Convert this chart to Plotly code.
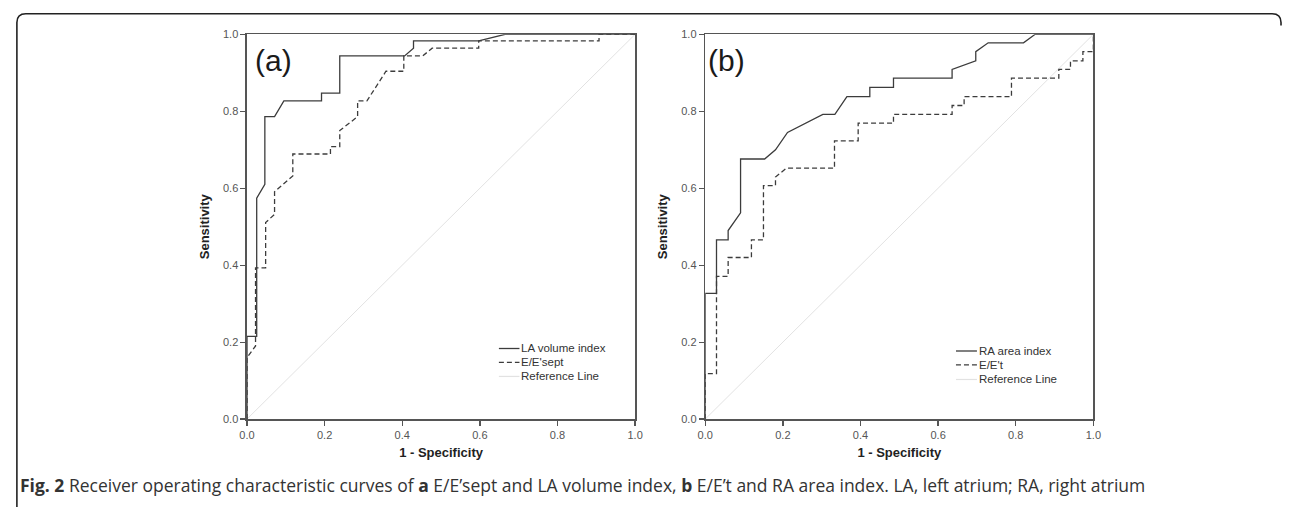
import plotly.graph_objects as go

# ---------------- data ----------------
# Panel (a)
la_x = [0, 0, 0.025, 0.025, 0.046, 0.046, 0.071, 0.095, 0.192, 0.192, 0.239, 0.239,
        0.406, 0.429, 0.429, 0.597, 0.665, 1.0]
la_y = [0, 0.215, 0.215, 0.574, 0.61, 0.786, 0.786, 0.827, 0.827, 0.847, 0.847, 0.944,
        0.944, 0.964, 0.983, 0.983, 1.0, 1.0]

sept_x = [0, 0, 0.022, 0.022, 0.048, 0.048, 0.071, 0.071, 0.118, 0.118, 0.215, 0.215,
          0.239, 0.239, 0.285, 0.285, 0.309, 0.358, 0.404, 0.404, 0.453, 0.477, 0.597,
          0.597, 0.907, 0.907, 1.0]
sept_y = [0, 0.16, 0.19, 0.393, 0.393, 0.511, 0.532, 0.591, 0.632, 0.689, 0.689, 0.708,
          0.708, 0.75, 0.786, 0.827, 0.827, 0.904, 0.904, 0.944, 0.944, 0.964, 0.964,
          0.983, 0.983, 1.0, 1.0]

# Panel (b)
ra_x = [0, 0, 0.029, 0.029, 0.059, 0.059, 0.091, 0.091, 0.153, 0.181, 0.212, 0.303,
        0.334, 0.365, 0.424, 0.424, 0.485, 0.485, 0.636, 0.636, 0.697, 0.697, 0.729,
        0.82, 0.85, 1.0]
ra_y = [0, 0.327, 0.327, 0.466, 0.466, 0.49, 0.536, 0.676, 0.676, 0.70, 0.745, 0.792,
        0.792, 0.838, 0.838, 0.862, 0.862, 0.886, 0.886, 0.909, 0.931, 0.955, 0.978,
        0.978, 1.0, 1.0]

et_x = [0, 0, 0.029, 0.029, 0.059, 0.059, 0.119, 0.119, 0.15, 0.15, 0.181, 0.181,
        0.209, 0.333, 0.333, 0.394, 0.394, 0.485, 0.485, 0.636, 0.636, 0.667, 0.667,
        0.789, 0.789, 0.911, 0.911, 0.941, 0.941, 0.973, 0.973, 1.0, 1.0]
et_y = [0, 0.118, 0.118, 0.371, 0.371, 0.42, 0.42, 0.466, 0.466, 0.607, 0.607, 0.629,
        0.652, 0.652, 0.723, 0.723, 0.769, 0.769, 0.792, 0.792, 0.815, 0.815, 0.838,
        0.838, 0.886, 0.886, 0.909, 0.909, 0.931, 0.931, 0.955, 0.955, 1.0]

ref_x = [0, 1]
ref_y = [0, 1]

tick_vals = [0.0, 0.2, 0.4, 0.6, 0.8, 1.0]
tick_text = ["0.0", "0.2", "0.4", "0.6", "0.8", "1.0"]

legend_a = ["LA volume index", "E/E'sept", "Reference Line"]
legend_b = ["RA area index", "E/E't", "Reference Line"]
panel_labels = ["(a)", "(b)"]
caption = ("<b>Fig. 2</b> Receiver operating characteristic curves of <b>a</b> E/E\u2019sept "
           "and LA volume index, <b>b</b> E/E\u2019t and RA area index. LA, left atrium; "
           "RA, right atrium")

# ---------------- styling ----------------
W, H = 1290, 513
CURVE = "#3c3c3c"
AXIS = "#555555"
REFC = "#e2e2e2"
DASH = "5px,3px"

def fx(px):
    return px / W

def fy(py):
    return 1 - py / H

fig = go.Figure()

def add_panel(xa, ya, sx, sy, dx, dy):
    fig.add_trace(go.Scatter(x=ref_x, y=ref_y, mode="lines", xaxis=xa, yaxis=ya,
                             line=dict(color=REFC, width=1), showlegend=False, hoverinfo="skip"))
    fig.add_trace(go.Scatter(x=dx, y=dy, mode="lines", xaxis=xa, yaxis=ya,
                             line=dict(color=CURVE, width=1.3, dash=DASH), showlegend=False))
    fig.add_trace(go.Scatter(x=sx, y=sy, mode="lines", xaxis=xa, yaxis=ya,
                             line=dict(color=CURVE, width=1.3), showlegend=False))

add_panel("x", "y", la_x, la_y, sept_x, sept_y)
add_panel("x2", "y2", ra_x, ra_y, et_x, et_y)

ax_common = dict(range=[0, 1], showgrid=False, zeroline=False, showline=True, mirror=True,
                 linecolor=AXIS, linewidth=1.5, ticks="outside", ticklen=5, tickwidth=1.3,
                 tickcolor=AXIS, tickvals=tick_vals, ticktext=tick_text,
                 tickfont=dict(family="Liberation Sans, Arial", size=11, color="#555555"),
                 fixedrange=True)
title_font = dict(family="Liberation Sans, Arial", size=13, color="#222222")

ydom = [fy(423), fy(29)]
fig.update_layout(
    width=W, height=H, margin=dict(l=0, r=0, t=0, b=0),
    paper_bgcolor="white", plot_bgcolor="white", showlegend=False,
    xaxis=dict(domain=[fx(242), fx(635)], anchor="y",
               title=dict(text="<b>1 - Specificity</b>", font=title_font, standoff=8), **ax_common),
    yaxis=dict(domain=ydom, anchor="x",
               title=dict(text="<b>Sensitivity</b>", font=title_font, standoff=10), **ax_common),
    xaxis2=dict(domain=[fx(706), fx(1099)], anchor="y2",
                title=dict(text="<b>1 - Specificity</b>", font=title_font, standoff=8), **ax_common),
    yaxis2=dict(domain=ydom, anchor="x2",
                title=dict(text="<b>Sensitivity</b>", font=title_font, standoff=10), **ax_common),
)

shapes = []
annotations = []

# manual legends (sample line + label) in axis-domain coordinates
leg_font = dict(family="Liberation Sans, Arial", size=11.5, color="#333333")
def add_legend(xr, yr, labels, x0, x1, xt, rows):
    styles = [dict(color=CURVE, width=1.3), dict(color=CURVE, width=1.3, dash=DASH),
              dict(color=REFC, width=1.2)]
    for lab, ry, st in zip(labels, rows, styles):
        shapes.append(dict(type="line", xref=xr + " domain", yref=yr + " domain",
                           x0=x0, x1=x1, y0=ry, y1=ry, line=st))
        annotations.append(dict(text=lab, xref=xr + " domain", yref=yr + " domain",
                                x=xt, y=ry, xanchor="left", yanchor="middle",
                                showarrow=False, font=leg_font, borderpad=0))

add_legend("x", "y", legend_a, 0.649, 0.702, 0.703, [0.1835, 0.1472, 0.1109])
add_legend("x2", "y2", legend_b, 0.646, 0.700, 0.703, [0.177, 0.141, 0.103])

# panel labels
for xr, yr, lab, xx in [("x", "y", panel_labels[0], 0.016), ("x2", "y2", panel_labels[1], 0.001)]:
    annotations.append(dict(text=lab, xref=xr + " domain", yref=yr + " domain", x=xx, y=0.933,
                            xanchor="left", yanchor="middle", showarrow=False,
                            font=dict(family="Liberation Sans, Arial", size=30, color="#1a1a1a")))

# caption
annotations.append(dict(text=caption, xref="paper", yref="paper", x=fx(10), y=fy(490),
                        xanchor="left", yanchor="middle", showarrow=False,
                        font=dict(family="Open Sans", size=17.5, color="#333333")))

# outer frame (rounded top corners, left bracket)
r = 9
path = (f"M {fx(9)},{fy(H)} "
        f"L {fx(9)},{fy(8 + r)} Q {fx(9)},{fy(8)} {fx(9 + r)},{fy(8)} "
        f"L {fx(W - 1 - r)},{fy(8)} Q {fx(W - 1)},{fy(8)} {fx(W - 1)},{fy(8 + r)} "
        f"L {fx(W - 1)},{fy(20)}")
shapes.append(dict(type="path", xref="paper", yref="paper", path=path,
                   line=dict(color="#222222", width=1.6)))

fig.update_layout(shapes=shapes, annotations=annotations)
fig.write_html("out.html",
               config={"displayModeBar": False, "staticPlot": True},
               post_script="document.body.style.margin='0';"
                           "document.body.style.overflow='hidden';")
